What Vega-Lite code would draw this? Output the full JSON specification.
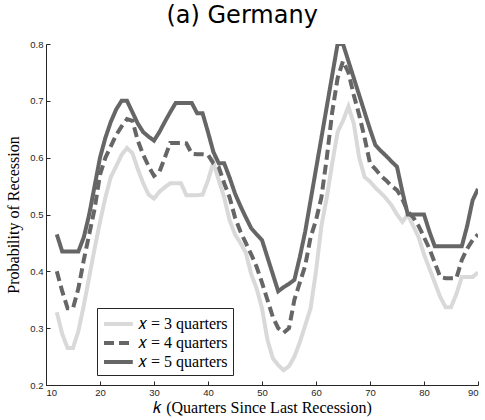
{
  "$schema": "https://vega.github.io/schema/vega-lite/v6.json",
  "autosize": "none",
  "width": 432,
  "height": 341,
  "padding": {"left": 46, "top": 44, "right": 7, "bottom": 35},
  "background": "white",
  "title": {
    "text": "(a) Germany",
    "font": "DejaVu Sans",
    "fontSize": 24,
    "fontWeight": "normal",
    "color": "#000000",
    "anchor": "middle",
    "frame": "bounds",
    "offset": 11
  },
  "data": {
    "values": [
      {"k": 12, "𝑥 = 3 quarters": 0.328, "𝑥 = 4 quarters": 0.400, "𝑥 = 5 quarters": 0.465},
      {"k": 13, "𝑥 = 3 quarters": 0.290, "𝑥 = 4 quarters": 0.365, "𝑥 = 5 quarters": 0.435},
      {"k": 14, "𝑥 = 3 quarters": 0.265, "𝑥 = 4 quarters": 0.335, "𝑥 = 5 quarters": 0.435},
      {"k": 15, "𝑥 = 3 quarters": 0.265, "𝑥 = 4 quarters": 0.335, "𝑥 = 5 quarters": 0.435},
      {"k": 16, "𝑥 = 3 quarters": 0.295, "𝑥 = 4 quarters": 0.370, "𝑥 = 5 quarters": 0.435},
      {"k": 17, "𝑥 = 3 quarters": 0.340, "𝑥 = 4 quarters": 0.420, "𝑥 = 5 quarters": 0.460},
      {"k": 18, "𝑥 = 3 quarters": 0.390, "𝑥 = 4 quarters": 0.465, "𝑥 = 5 quarters": 0.500},
      {"k": 19, "𝑥 = 3 quarters": 0.440, "𝑥 = 4 quarters": 0.510, "𝑥 = 5 quarters": 0.550},
      {"k": 20, "𝑥 = 3 quarters": 0.487, "𝑥 = 4 quarters": 0.570, "𝑥 = 5 quarters": 0.600},
      {"k": 21, "𝑥 = 3 quarters": 0.530, "𝑥 = 4 quarters": 0.600, "𝑥 = 5 quarters": 0.635},
      {"k": 22, "𝑥 = 3 quarters": 0.566, "𝑥 = 4 quarters": 0.620, "𝑥 = 5 quarters": 0.663},
      {"k": 23, "𝑥 = 3 quarters": 0.585, "𝑥 = 4 quarters": 0.640, "𝑥 = 5 quarters": 0.685},
      {"k": 24, "𝑥 = 3 quarters": 0.605, "𝑥 = 4 quarters": 0.655, "𝑥 = 5 quarters": 0.700},
      {"k": 25, "𝑥 = 3 quarters": 0.617, "𝑥 = 4 quarters": 0.668, "𝑥 = 5 quarters": 0.700},
      {"k": 26, "𝑥 = 3 quarters": 0.608, "𝑥 = 4 quarters": 0.665, "𝑥 = 5 quarters": 0.680},
      {"k": 27, "𝑥 = 3 quarters": 0.580, "𝑥 = 4 quarters": 0.630, "𝑥 = 5 quarters": 0.660},
      {"k": 28, "𝑥 = 3 quarters": 0.555, "𝑥 = 4 quarters": 0.605, "𝑥 = 5 quarters": 0.645},
      {"k": 29, "𝑥 = 3 quarters": 0.535, "𝑥 = 4 quarters": 0.585, "𝑥 = 5 quarters": 0.637},
      {"k": 30, "𝑥 = 3 quarters": 0.528, "𝑥 = 4 quarters": 0.568, "𝑥 = 5 quarters": 0.630},
      {"k": 31, "𝑥 = 3 quarters": 0.540, "𝑥 = 4 quarters": 0.575, "𝑥 = 5 quarters": 0.645},
      {"k": 32, "𝑥 = 3 quarters": 0.548, "𝑥 = 4 quarters": 0.600, "𝑥 = 5 quarters": 0.663},
      {"k": 33, "𝑥 = 3 quarters": 0.555, "𝑥 = 4 quarters": 0.626, "𝑥 = 5 quarters": 0.680},
      {"k": 34, "𝑥 = 3 quarters": 0.555, "𝑥 = 4 quarters": 0.626, "𝑥 = 5 quarters": 0.696},
      {"k": 35, "𝑥 = 3 quarters": 0.555, "𝑥 = 4 quarters": 0.626, "𝑥 = 5 quarters": 0.696},
      {"k": 36, "𝑥 = 3 quarters": 0.534, "𝑥 = 4 quarters": 0.625, "𝑥 = 5 quarters": 0.696},
      {"k": 37, "𝑥 = 3 quarters": 0.534, "𝑥 = 4 quarters": 0.607, "𝑥 = 5 quarters": 0.696},
      {"k": 38, "𝑥 = 3 quarters": 0.534, "𝑥 = 4 quarters": 0.606, "𝑥 = 5 quarters": 0.678},
      {"k": 39, "𝑥 = 3 quarters": 0.535, "𝑥 = 4 quarters": 0.606, "𝑥 = 5 quarters": 0.678},
      {"k": 40, "𝑥 = 3 quarters": 0.560, "𝑥 = 4 quarters": 0.605, "𝑥 = 5 quarters": 0.645},
      {"k": 41, "𝑥 = 3 quarters": 0.592, "𝑥 = 4 quarters": 0.590, "𝑥 = 5 quarters": 0.610},
      {"k": 42, "𝑥 = 3 quarters": 0.560, "𝑥 = 4 quarters": 0.583, "𝑥 = 5 quarters": 0.590},
      {"k": 43, "𝑥 = 3 quarters": 0.530, "𝑥 = 4 quarters": 0.555, "𝑥 = 5 quarters": 0.590},
      {"k": 44, "𝑥 = 3 quarters": 0.490, "𝑥 = 4 quarters": 0.530, "𝑥 = 5 quarters": 0.565},
      {"k": 45, "𝑥 = 3 quarters": 0.465, "𝑥 = 4 quarters": 0.495, "𝑥 = 5 quarters": 0.537},
      {"k": 46, "𝑥 = 3 quarters": 0.450, "𝑥 = 4 quarters": 0.470, "𝑥 = 5 quarters": 0.515},
      {"k": 47, "𝑥 = 3 quarters": 0.433, "𝑥 = 4 quarters": 0.450, "𝑥 = 5 quarters": 0.495},
      {"k": 48, "𝑥 = 3 quarters": 0.395, "𝑥 = 4 quarters": 0.430, "𝑥 = 5 quarters": 0.476},
      {"k": 49, "𝑥 = 3 quarters": 0.370, "𝑥 = 4 quarters": 0.408, "𝑥 = 5 quarters": 0.465},
      {"k": 50, "𝑥 = 3 quarters": 0.335, "𝑥 = 4 quarters": 0.380, "𝑥 = 5 quarters": 0.455},
      {"k": 51, "𝑥 = 3 quarters": 0.280, "𝑥 = 4 quarters": 0.350, "𝑥 = 5 quarters": 0.425},
      {"k": 52, "𝑥 = 3 quarters": 0.247, "𝑥 = 4 quarters": 0.320, "𝑥 = 5 quarters": 0.395},
      {"k": 53, "𝑥 = 3 quarters": 0.235, "𝑥 = 4 quarters": 0.300, "𝑥 = 5 quarters": 0.365},
      {"k": 54, "𝑥 = 3 quarters": 0.226, "𝑥 = 4 quarters": 0.292, "𝑥 = 5 quarters": 0.372},
      {"k": 55, "𝑥 = 3 quarters": 0.233, "𝑥 = 4 quarters": 0.300, "𝑥 = 5 quarters": 0.378},
      {"k": 56, "𝑥 = 3 quarters": 0.250, "𝑥 = 4 quarters": 0.350, "𝑥 = 5 quarters": 0.385},
      {"k": 57, "𝑥 = 3 quarters": 0.275, "𝑥 = 4 quarters": 0.380, "𝑥 = 5 quarters": 0.425},
      {"k": 58, "𝑥 = 3 quarters": 0.305, "𝑥 = 4 quarters": 0.410, "𝑥 = 5 quarters": 0.470},
      {"k": 59, "𝑥 = 3 quarters": 0.335, "𝑥 = 4 quarters": 0.460, "𝑥 = 5 quarters": 0.525},
      {"k": 60, "𝑥 = 3 quarters": 0.400, "𝑥 = 4 quarters": 0.490, "𝑥 = 5 quarters": 0.580},
      {"k": 61, "𝑥 = 3 quarters": 0.480, "𝑥 = 4 quarters": 0.530, "𝑥 = 5 quarters": 0.635},
      {"k": 62, "𝑥 = 3 quarters": 0.530, "𝑥 = 4 quarters": 0.600, "𝑥 = 5 quarters": 0.690},
      {"k": 63, "𝑥 = 3 quarters": 0.590, "𝑥 = 4 quarters": 0.680, "𝑥 = 5 quarters": 0.745},
      {"k": 64, "𝑥 = 3 quarters": 0.645, "𝑥 = 4 quarters": 0.740, "𝑥 = 5 quarters": 0.800},
      {"k": 65, "𝑥 = 3 quarters": 0.665, "𝑥 = 4 quarters": 0.770, "𝑥 = 5 quarters": 0.800},
      {"k": 66, "𝑥 = 3 quarters": 0.690, "𝑥 = 4 quarters": 0.750, "𝑥 = 5 quarters": 0.770},
      {"k": 67, "𝑥 = 3 quarters": 0.660, "𝑥 = 4 quarters": 0.710, "𝑥 = 5 quarters": 0.740},
      {"k": 68, "𝑥 = 3 quarters": 0.600, "𝑥 = 4 quarters": 0.675, "𝑥 = 5 quarters": 0.710},
      {"k": 69, "𝑥 = 3 quarters": 0.566, "𝑥 = 4 quarters": 0.635, "𝑥 = 5 quarters": 0.680},
      {"k": 70, "𝑥 = 3 quarters": 0.558, "𝑥 = 4 quarters": 0.590, "𝑥 = 5 quarters": 0.650},
      {"k": 71, "𝑥 = 3 quarters": 0.547, "𝑥 = 4 quarters": 0.580, "𝑥 = 5 quarters": 0.622},
      {"k": 72, "𝑥 = 3 quarters": 0.538, "𝑥 = 4 quarters": 0.568, "𝑥 = 5 quarters": 0.612},
      {"k": 73, "𝑥 = 3 quarters": 0.528, "𝑥 = 4 quarters": 0.560, "𝑥 = 5 quarters": 0.603},
      {"k": 74, "𝑥 = 3 quarters": 0.516, "𝑥 = 4 quarters": 0.550, "𝑥 = 5 quarters": 0.593},
      {"k": 75, "𝑥 = 3 quarters": 0.500, "𝑥 = 4 quarters": 0.543, "𝑥 = 5 quarters": 0.584},
      {"k": 76, "𝑥 = 3 quarters": 0.487, "𝑥 = 4 quarters": 0.527, "𝑥 = 5 quarters": 0.540},
      {"k": 77, "𝑥 = 3 quarters": 0.500, "𝑥 = 4 quarters": 0.505, "𝑥 = 5 quarters": 0.500},
      {"k": 78, "𝑥 = 3 quarters": 0.480, "𝑥 = 4 quarters": 0.495, "𝑥 = 5 quarters": 0.500},
      {"k": 79, "𝑥 = 3 quarters": 0.460, "𝑥 = 4 quarters": 0.480, "𝑥 = 5 quarters": 0.500},
      {"k": 80, "𝑥 = 3 quarters": 0.430, "𝑥 = 4 quarters": 0.460, "𝑥 = 5 quarters": 0.500},
      {"k": 81, "𝑥 = 3 quarters": 0.405, "𝑥 = 4 quarters": 0.440, "𝑥 = 5 quarters": 0.470},
      {"k": 82, "𝑥 = 3 quarters": 0.380, "𝑥 = 4 quarters": 0.415, "𝑥 = 5 quarters": 0.444},
      {"k": 83, "𝑥 = 3 quarters": 0.355, "𝑥 = 4 quarters": 0.390, "𝑥 = 5 quarters": 0.444},
      {"k": 84, "𝑥 = 3 quarters": 0.337, "𝑥 = 4 quarters": 0.388, "𝑥 = 5 quarters": 0.444},
      {"k": 85, "𝑥 = 3 quarters": 0.337, "𝑥 = 4 quarters": 0.388, "𝑥 = 5 quarters": 0.444},
      {"k": 86, "𝑥 = 3 quarters": 0.360, "𝑥 = 4 quarters": 0.388, "𝑥 = 5 quarters": 0.444},
      {"k": 87, "𝑥 = 3 quarters": 0.390, "𝑥 = 4 quarters": 0.420, "𝑥 = 5 quarters": 0.444},
      {"k": 88, "𝑥 = 3 quarters": 0.390, "𝑥 = 4 quarters": 0.440, "𝑥 = 5 quarters": 0.480},
      {"k": 89, "𝑥 = 3 quarters": 0.390, "𝑥 = 4 quarters": 0.455, "𝑥 = 5 quarters": 0.525},
      {"k": 90, "𝑥 = 3 quarters": 0.398, "𝑥 = 4 quarters": 0.465, "𝑥 = 5 quarters": 0.545}
    ]
  },
  "transform": [
    {"fold": ["𝑥 = 3 quarters", "𝑥 = 4 quarters", "𝑥 = 5 quarters"], "as": ["series", "prob"]}
  ],
  "mark": {"type": "line", "strokeWidth": 4, "clip": true},
  "encoding": {
    "x": {
      "field": "k",
      "type": "quantitative",
      "scale": {"domain": [10, 90], "nice": false, "zero": false},
      "axis": {
        "title": "𝑘 (Quarters Since Last Recession)",
        "values": [10, 20, 30, 40, 50, 60, 70, 80, 90],
        "format": "d"
      }
    },
    "y": {
      "field": "prob",
      "type": "quantitative",
      "scale": {"domain": [0.2, 0.8], "nice": false, "zero": false},
      "axis": {
        "title": "Probability of Recession",
        "values": [0.2, 0.3, 0.4, 0.5, 0.6, 0.7, 0.8],
        "format": ".1f"
      }
    },
    "color": {
      "field": "series",
      "type": "nominal",
      "scale": {
        "domain": ["𝑥 = 3 quarters", "𝑥 = 4 quarters", "𝑥 = 5 quarters"],
        "range": ["#d9d9d9", "#666666", "#666666"]
      },
      "legend": {
        "title": null,
        "orient": "none",
        "legendX": 51,
        "legendY": 264
      }
    },
    "strokeDash": {
      "field": "series",
      "type": "nominal",
      "scale": {
        "domain": ["𝑥 = 3 quarters", "𝑥 = 4 quarters", "𝑥 = 5 quarters"],
        "range": [[1, 0], [10, 5], [1, 0]]
      },
      "legend": {
        "title": null,
        "orient": "none",
        "legendX": 51,
        "legendY": 264
      }
    },
    "order": {"field": "series"}
  },
  "config": {
    "view": {"stroke": null},
    "axis": {
      "grid": false,
      "domainColor": "#262626",
      "domainWidth": 1,
      "tickColor": "#262626",
      "tickWidth": 1,
      "tickSize": -4,
      "labelFont": "Liberation Sans",
      "labelFontSize": 9.5,
      "labelColor": "#262626",
      "titleFont": "Liberation Serif",
      "titleFontSize": 16,
      "titleFontWeight": "normal",
      "titleColor": "#000000"
    },
    "axisX": {"labelPadding": 6, "titlePadding": 3},
    "axisY": {"labelPadding": 7, "titlePadding": 8},
    "legend": {
      "symbolType": "M-1,0H2.2",
      "symbolSize": 324,
      "symbolStrokeWidth": 4,
      "labelFont": "Liberation Serif",
      "labelFontSize": 16,
      "labelColor": "#000000",
      "labelOffset": 14,
      "rowPadding": 0,
      "padding": 5,
      "strokeColor": "#262626",
      "strokeWidth": 1,
      "fillColor": "#ffffff"
    }
  }
}
